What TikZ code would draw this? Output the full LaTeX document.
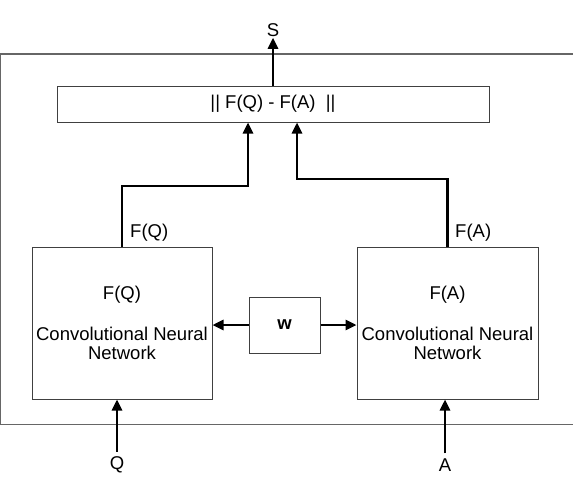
\documentclass[tikz,border=0pt]{standalone}
\usepackage{fontspec}
\setmainfont{Liberation Sans}
\usetikzlibrary{positioning, arrows.meta}

\begin{document}
\begin{tikzpicture}[
      x=1pt, y=-1pt,
      every node/.style={font=\fontsize{18.5}{19.5}\selectfont},
      block/.style={
        draw=black!75,
        rectangle,
        align=center,
        inner sep=0pt,
        line width=1pt
      },
      lbl/.style={inner sep=1pt},
      arrow/.style={-{Triangle[length=11pt,width=10pt]}, line width=2.6pt}
    ]
    \useasboundingbox (0,0) rectangle (573,477);

    % Outer frame (open to the right)
    \draw [black!60, line width=1.2pt] (573,54) -- (0.6,54) -- (0.6,424.5) -- (573,424.5);

    % Place nodes
    \node [block, minimum width=432pt, minimum height=36pt] (diff) at (273,104) {|| F(Q) - F(A)\ \ ||};
    \node [block, minimum width=180pt, minimum height=152pt] (cnnq) at (122,323)
      {F(Q)\\[21.5pt]Convolutional Neural\\Network};
    \node [block, minimum width=181pt, minimum height=152pt] (cnna) at (447.5,323)
      {F(A)\\[21.5pt]Convolutional Neural\\Network};
    \node [block, minimum width=71pt, minimum height=56pt, font=\fontsize{18.5}{19.5}\selectfont\bfseries] (w) at (284.5,325) {w};

    \node [lbl] (s) at (273,30) {S};
    \node [lbl] (q) at (117,465) {Q};
    \node [lbl] (a) at (445,465) {A};
    \node [lbl, anchor=west] (fqlbl) at (129,233) {F(Q)};
    \node [lbl, anchor=west] (falbl) at (454,233) {F(A)};

    % Inputs
    \draw [arrow, shorten <=4pt] (q.north) -- (q.north |- cnnq.south);
    \draw [arrow, shorten <=4pt] (a.north) -- (a.north |- cnna.south);

    % Shared weights
    \draw [arrow] (w.west) -- (cnnq.east |- w.west);
    \draw [arrow] (w.east) -- (cnna.west |- w.east);

    % Outputs into the distance
    \draw [arrow] (cnnq.north) -- (cnnq.north |- 0,186) -| ([xshift=-25pt]diff.south);
    \draw [arrow] (cnna.north) -- (cnna.north |- 0,179) -| ([xshift=24pt]diff.south);
    \draw [arrow] (diff.north) -- (s.south);
  \end{tikzpicture}
\end{document}
